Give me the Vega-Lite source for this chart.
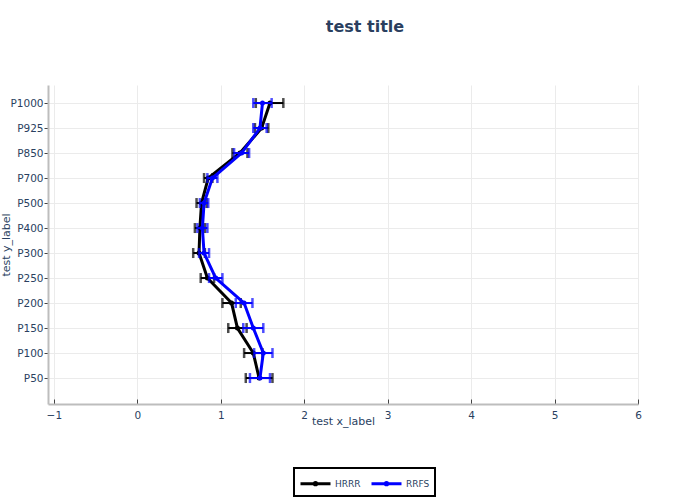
{
  "$schema": "https://vega.github.io/schema/vega-lite/v6.json",
  "width": 590,
  "height": 319,
  "autosize": {"type": "none"},
  "padding": {"left": 48, "top": 85, "right": 62, "bottom": 96},
  "background": "white",
  "title": {
    "text": "test title",
    "font": "DejaVu Sans",
    "fontSize": 16,
    "fontWeight": "bold",
    "color": "#2a3f5f",
    "anchor": "middle",
    "frame": "group",
    "dx": 22,
    "offset": 50
  },
  "config": {
    "font": "DejaVu Sans",
    "view": {"stroke": null},
    "axis": {
      "labelFont": "DejaVu Sans",
      "titleFont": "DejaVu Sans",
      "labelColor": "#2a3f5f",
      "titleColor": "#2a3f5f",
      "labelFontSize": 10.5,
      "titleFontSize": 11,
      "titleFontWeight": "normal",
      "gridColor": "#ebebeb",
      "gridWidth": 1,
      "domainColor": "#bdbdbd",
      "domainWidth": 2,
      "tickColor": "#444444",
      "tickWidth": 1
    }
  },
  "data": {
    "values": [
      {"level": "P1000", "model": "HRRR", "value": 1.59, "lo": 1.42, "hi": 1.75},
      {"level": "P925", "model": "HRRR", "value": 1.49, "lo": 1.41, "hi": 1.57},
      {"level": "P850", "model": "HRRR", "value": 1.23, "lo": 1.14, "hi": 1.32},
      {"level": "P700", "model": "HRRR", "value": 0.85, "lo": 0.80, "hi": 0.90},
      {"level": "P500", "model": "HRRR", "value": 0.77, "lo": 0.71, "hi": 0.83},
      {"level": "P400", "model": "HRRR", "value": 0.75, "lo": 0.69, "hi": 0.81},
      {"level": "P300", "model": "HRRR", "value": 0.74, "lo": 0.67, "hi": 0.81},
      {"level": "P250", "model": "HRRR", "value": 0.84, "lo": 0.76, "hi": 0.92},
      {"level": "P200", "model": "HRRR", "value": 1.13, "lo": 1.02, "hi": 1.24},
      {"level": "P150", "model": "HRRR", "value": 1.20, "lo": 1.09, "hi": 1.31},
      {"level": "P100", "model": "HRRR", "value": 1.39, "lo": 1.28, "hi": 1.50},
      {"level": "P50", "model": "HRRR", "value": 1.46, "lo": 1.30, "hi": 1.62},
      {"level": "P1000", "model": "RRFS", "value": 1.50, "lo": 1.39, "hi": 1.61},
      {"level": "P925", "model": "RRFS", "value": 1.47, "lo": 1.39, "hi": 1.55},
      {"level": "P850", "model": "RRFS", "value": 1.25, "lo": 1.16, "hi": 1.34},
      {"level": "P700", "model": "RRFS", "value": 0.90, "lo": 0.84, "hi": 0.96},
      {"level": "P500", "model": "RRFS", "value": 0.80, "lo": 0.75, "hi": 0.85},
      {"level": "P400", "model": "RRFS", "value": 0.78, "lo": 0.72, "hi": 0.84},
      {"level": "P300", "model": "RRFS", "value": 0.80, "lo": 0.74, "hi": 0.86},
      {"level": "P250", "model": "RRFS", "value": 0.94, "lo": 0.86, "hi": 1.02},
      {"level": "P200", "model": "RRFS", "value": 1.28, "lo": 1.18, "hi": 1.38},
      {"level": "P150", "model": "RRFS", "value": 1.39, "lo": 1.27, "hi": 1.51},
      {"level": "P100", "model": "RRFS", "value": 1.51, "lo": 1.40, "hi": 1.62},
      {"level": "P50", "model": "RRFS", "value": 1.47, "lo": 1.35, "hi": 1.59}
    ]
  },
  "encoding": {
    "y": {
      "field": "level",
      "type": "nominal",
      "sort": ["P1000", "P925", "P850", "P700", "P500", "P400", "P300", "P250", "P200", "P150", "P100", "P50"],
      "scale": {"type": "point", "padding": 0.88, "align": 0.41},
      "axis": {
        "title": "test y_label",
        "grid": true,
        "tickSize": 4,
        "labelPadding": 1,
        "titlePadding": -2
      }
    },
    "color": {
      "field": "model",
      "type": "nominal",
      "scale": {"domain": ["HRRR", "RRFS"], "range": ["#000000", "#0000ff"]},
      "legend": {
        "title": null,
        "orient": "none",
        "direction": "horizontal",
        "legendX": 246,
        "legendY": 383,
        "padding": 5,
        "symbolType": "M-1,0L2.333,0M0.667,-0.133A0.133,0.133,0,1,1,0.667,0.133A0.133,0.133,0,1,1,0.667,-0.133Z",
        "symbolSize": 324,
        "symbolStrokeWidth": 3,
        "symbolFillColor": "transparent",
        "labelFont": "DejaVu Sans",
        "labelFontSize": 9,
        "labelColor": "#2a3f5f",
        "columnPadding": 4,
        "symbolOffset": 0,
        "labelOffset": 15,
        "encode": {
          "legend": {"update": {"stroke": {"value": "#000000"}, "strokeWidth": {"value": 2}}}
        }
      }
    }
  },
  "layer": [
    {
      "transform": [{"filter": "datum.model == 'HRRR'"}],
      "layer": [
        {
          "mark": {"type": "rule", "strokeWidth": 2},
          "encoding": {
            "x": {
              "field": "lo",
              "type": "quantitative",
              "scale": {"domain": [-1.07, 6], "nice": false, "zero": false},
              "axis": {
                "title": "test x_label",
                "values": [-1, 0, 1, 2, 3, 4, 5, 6],
                "format": "d",
                "tickSize": -5,
                "labelPadding": 11,
                "labelFlush": false,
                "titlePadding": -5,
                "grid": true
              }
            },
            "x2": {"field": "hi"}
          }
        },
        {
          "mark": {"type": "tick", "size": 10, "thickness": 2.5, "orient": "vertical"},
          "encoding": {"x": {"field": "lo", "type": "quantitative"}}
        },
        {
          "mark": {"type": "tick", "size": 10, "thickness": 2.5, "orient": "vertical"},
          "encoding": {"x": {"field": "hi", "type": "quantitative"}}
        },
        {
          "mark": {"type": "line", "strokeWidth": 3, "point": {"size": 25, "filled": true}},
          "encoding": {
            "x": {"field": "value", "type": "quantitative"},
            "order": {"value": null}
          }
        }
      ]
    },
    {
      "transform": [{"filter": "datum.model == 'RRFS'"}],
      "layer": [
        {
          "mark": {"type": "rule", "strokeWidth": 2},
          "encoding": {
            "x": {"field": "lo", "type": "quantitative"},
            "x2": {"field": "hi"}
          }
        },
        {
          "mark": {"type": "tick", "size": 10, "thickness": 2.5, "orient": "vertical"},
          "encoding": {"x": {"field": "lo", "type": "quantitative"}}
        },
        {
          "mark": {"type": "tick", "size": 10, "thickness": 2.5, "orient": "vertical"},
          "encoding": {"x": {"field": "hi", "type": "quantitative"}}
        },
        {
          "mark": {"type": "line", "strokeWidth": 3, "point": {"size": 25, "filled": true}},
          "encoding": {
            "x": {"field": "value", "type": "quantitative"},
            "order": {"value": null}
          }
        }
      ]
    }
  ]
}
